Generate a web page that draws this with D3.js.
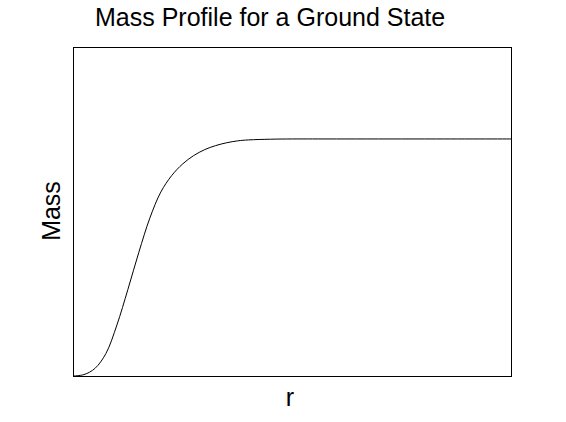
<!DOCTYPE html>
<html>
<head>
<meta charset="utf-8">
<script src="https://cdn.jsdelivr.net/npm/d3@7"></script>
<style>
  body { margin: 0; background: #fff; }
  text { font-family: "Liberation Sans", Arial, sans-serif; }
</style>
</head>
<body>
<div id="chart"></div>
<script>
// Values (r in arbitrary units, mass normalised to the plateau)
const rValues    = [0, 0.5, 1, 1.5, 2, 2.5, 3, 3.5, 4, 4.5, 5, 5.5, 6, 6.5, 7, 7.5, 8, 9, 10, 12, 16, 20];
const massValues = [0, 0.006, 0.032, 0.095, 0.215, 0.365, 0.522, 0.666, 0.776, 0.846, 0.895, 0.930, 0.955, 0.972, 0.984, 0.992, 0.996, 0.999, 1.0, 1.0, 1.0, 1.0];

const titleText = "Mass Profile for a Ground State",
      xLabel = "r",
      yLabel = "Mass";

// Constant dimensions
const width = 566, height = 422;
const margin = { top: 47, right: 54, bottom: 46, left: 73 };

const svg = d3.select("#chart").append("svg")
    .attr("width", width)
    .attr("height", height);

const x = d3.scaleLinear([0, 20], [margin.left, width - margin.right]);
const y = d3.scaleLinear([0, 1.388], [height - margin.bottom, margin.top]);

const data = rValues.map(function(r, i) { return { r: r, m: massValues[i] }; });

// The curve
const line = d3.line()
    .x(function(d) { return x(d.r); })
    .y(function(d) { return y(d.m); })
    .curve(d3.curveCatmullRom.alpha(0.5));

svg.append("path")
    .datum(data)
    .attr("fill", "none")
    .attr("stroke", "#000")
    .attr("stroke-width", 1)
    .attr("d", line);

// Axis box, no ticks
svg.append("rect")
    .attr("x", margin.left + 0.5)
    .attr("y", margin.top + 0.5)
    .attr("width", width - margin.left - margin.right - 1)
    .attr("height", height - margin.top - margin.bottom)
    .attr("fill", "none")
    .attr("stroke", "#000")
    .attr("stroke-width", 1);

// Labels
svg.append("text")
    .attr("x", 95)
    .attr("y", 26)
    .attr("font-size", 25)
    .text(titleText);

svg.append("text")
    .attr("x", 290)
    .attr("y", 406)
    .attr("text-anchor", "middle")
    .attr("font-size", 25)
    .text(xLabel);

svg.append("text")
    .attr("transform", "translate(60,211) rotate(-90)")
    .attr("text-anchor", "middle")
    .attr("font-size", 25)
    .text(yLabel);
</script>
</body>
</html>
